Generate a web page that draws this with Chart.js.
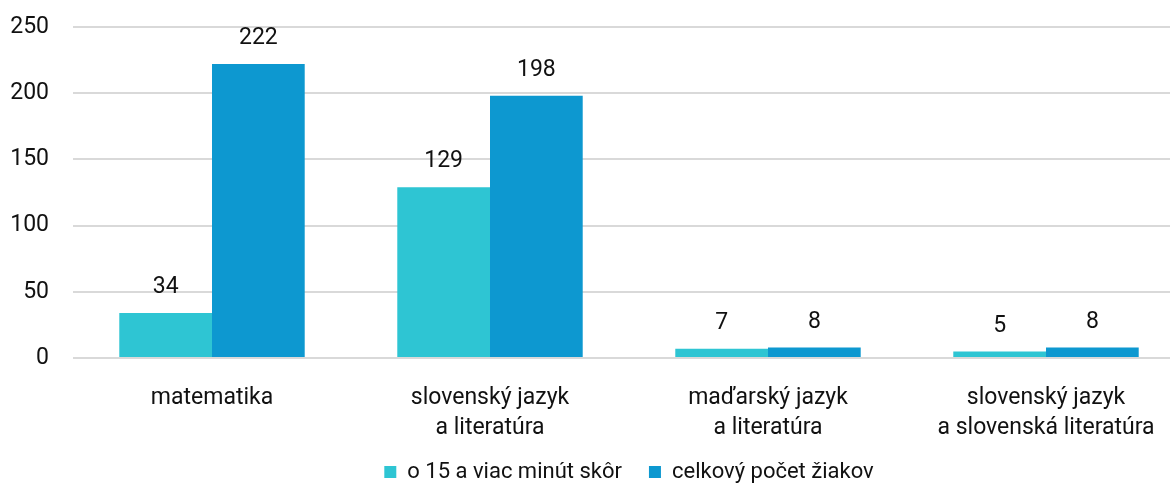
<!DOCTYPE html>
<html>
<head>
<meta charset="utf-8">
<script src="https://cdn.jsdelivr.net/npm/chart.js@4"></script>
<style>
  html, body { margin: 0; padding: 0; background: #fff; overflow: hidden; }
  #wrap { width: 1185px; height: 483px; }
</style>
</head>
<body>
<div id="wrap"><canvas id="chart" width="1185" height="483"></canvas></div>
<script>
// Data
const categories = [
  'matematika',
  ['slovenský jazyk', 'a literatúra'],
  ['maďarský jazyk', 'a literatúra'],
  ['slovenský jazyk', 'a slovenská literatúra']
];
const earlyValues = [34, 129, 7, 5];
const totalValues = [222, 198, 8, 8];
const seriesNames = ['o 15 a viac minút skôr', 'celkový počet žiakov'];
const yTicks = [0, 50, 100, 150, 200, 250];

const FONT = 'Roboto';

// Simple value labels above the bars
const valueLabels = {
  id: 'valueLabels',
  afterDatasetsDraw(chart) {
    const ctx = chart.ctx;
    ctx.save();
    ctx.font = '23px ' + FONT;
    ctx.fillStyle = '#111';
    ctx.textAlign = 'center';
    ctx.textBaseline = 'bottom';
    chart.data.datasets.forEach((ds, i) => {
      chart.getDatasetMeta(i).data.forEach((bar, j) => {
        ctx.fillText(ds.data[j], bar.x, bar.y - 14);
      });
    });
    ctx.restore();
  }
};

// Keep legend low at the bottom, with wide gap between items
const legendHeight = {
  id: 'legendHeight',
  beforeLayout(chart) {
    const lg = chart.legend;
    if (lg && !lg._patched) {
      const fit = lg.fit;
      lg.fit = function () {
        fit.call(this);
        this.height = 49;
      };
      lg._patched = true;
    }
  }
};

new Chart(document.getElementById('chart'), {
  type: 'bar',
  data: {
    labels: categories,
    datasets: [{
      label: seriesNames[0],
      data: earlyValues,
      backgroundColor: '#2ec5d3'
    }, {
      label: seriesNames[1],
      data: totalValues,
      backgroundColor: '#0d98d0'
    }]
  },
  options: {
    responsive: false,
    animation: false,
    devicePixelRatio: 1,
    layout: { padding: { top: 27, left: 0, right: 0, bottom: 0 } },
    datasets: {
      bar: { categoryPercentage: 0.667, barPercentage: 1.0 }
    },
    scales: {
      x: {
        grid: { display: false },
        border: { display: false },
        ticks: { color: '#111', font: { family: FONT, size: 23, lineHeight: 1.3 }, padding: 17, maxRotation: 0 },
        afterFit(axis) { axis.height = 76; }
      },
      y: {
        min: 0,
        max: 250,
        afterBuildTicks(axis) { axis.ticks = yTicks.map(v => ({ value: v })); },
        grid: { color: '#d9d9d9', lineWidth: 2, drawTicks: false },
        border: { display: false },
        ticks: { color: '#111', font: { family: FONT, size: 23 }, padding: 24 },
        afterFit(axis) {
          axis.width = 73;
          axis.paddingTop = 0;
          axis.paddingBottom = 0;
        }
      }
    },
    plugins: {
      legend: {
        position: 'bottom',
        fullSize: false,
        labels: {
          color: '#111',
          font: { family: FONT, size: 22 },
          boxWidth: 12,
          boxHeight: 12,
          padding: 27
        }
      },
      tooltip: { enabled: false }
    }
  },
  plugins: [valueLabels, legendHeight]
});
</script>
</body>
</html>
